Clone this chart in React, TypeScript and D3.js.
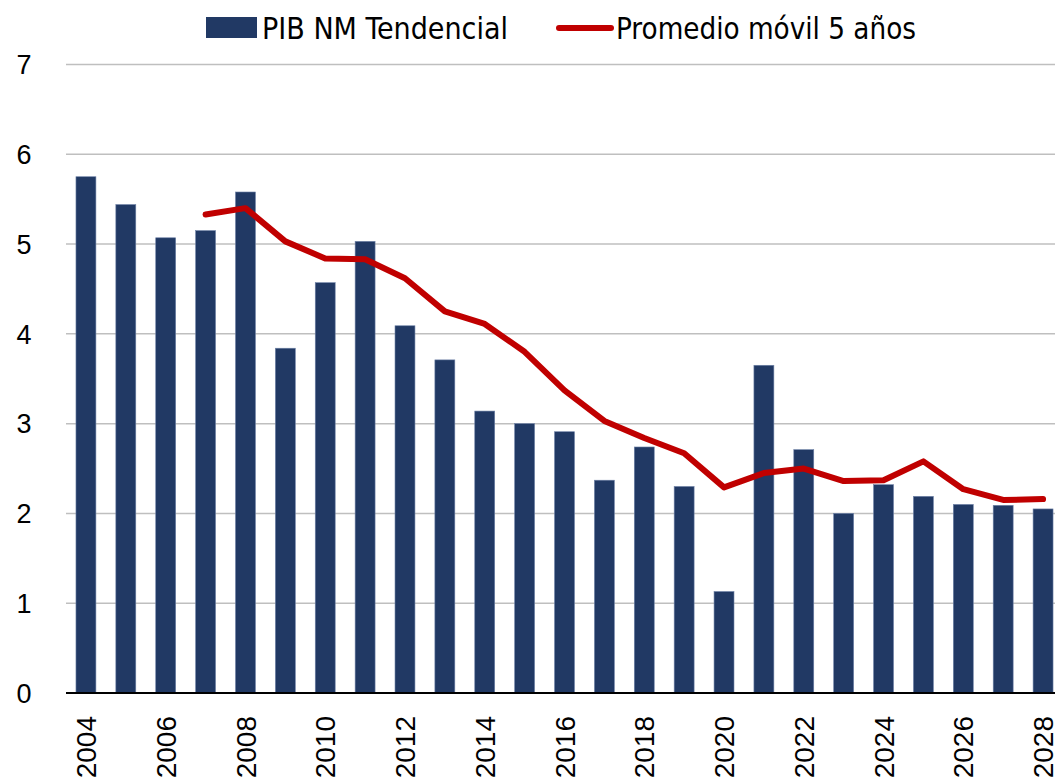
import React from "react";
import * as d3 from "d3";

const years = d3.range(2004, 2029).map(String);
const pibValues = [5.75, 5.44, 5.07, 5.15, 5.58, 3.84, 4.57, 5.03, 4.09, 3.71, 3.14, 3.0, 2.91, 2.37, 2.74, 2.3, 1.13, 3.65, 2.71, 2.0, 2.32, 2.19, 2.1, 2.09, 2.05];
const maYears = d3.range(2007, 2029).map(String);
const maValues = [5.33, 5.4, 5.03, 4.84, 4.83, 4.62, 4.25, 4.11, 3.8, 3.37, 3.03, 2.84, 2.67, 2.29, 2.45, 2.5, 2.36, 2.37, 2.58, 2.27, 2.15, 2.16];
const yTicks = [0, 1, 2, 3, 4, 5, 6, 7];
const xTickLabels = years.filter((_, i) => i % 2 === 0);
const legendLabels = ["PIB NM Tendencial", "Promedio móvil 5 años"];

const W = 1055;
const H = 783;
const BAR = "#213964";
const RED = "#c00000";

export default function App() {
  const x = d3.scaleBand<string>().domain(years).range([66, 1063]).paddingInner(0.5).paddingOuter(0.25);
  const y = d3.scaleLinear().domain([0, 7]).range([693, 64.5]);
  const line = d3
    .line<number>()
    .x((_, i) => (x(maYears[i]) as number) + x.bandwidth() / 2)
    .y((d) => y(d));

  return (
    <svg width={W} height={H} style={{ position: "absolute", left: 0, top: 0, background: "#fff" }}>
      {yTicks.slice(1).map((t) => (
        <line key={t} x1={66} x2={W} y1={y(t)} y2={y(t)} stroke="#bfbfbf" strokeWidth={1.5} />
      ))}
      {yTicks.map((t) => (
        <text key={"l" + t} x={24} y={y(t)} dy="0.36em" textAnchor="middle" fontFamily="'Liberation Sans', Arial, sans-serif" fontSize={27} fill="#000">
          {t}
        </text>
      ))}
      {years.map((yr, i) => (
        <rect
          key={yr}
          x={x(yr)}
          y={y(pibValues[i])}
          width={x.bandwidth()}
          height={y(0) - y(pibValues[i])}
          fill={BAR}
          stroke="#6d80a6"
          strokeWidth={0.6}
        />
      ))}
      <line x1={66} x2={W} y1={y(0)} y2={y(0)} stroke="#000" strokeWidth={2} />
      <path d={line(maValues) || ""} fill="none" stroke={RED} strokeWidth={6} strokeLinejoin="round" strokeLinecap="round" />
      {xTickLabels.map((yr) => {
        const cx = (x(yr) as number) + x.bandwidth() / 2;
        return (
          <text
            key={"x" + yr}
            transform={`translate(${cx},716) rotate(-90)`}
            textAnchor="end"
            dy="0.36em"
            fontFamily="'Liberation Sans', Arial, sans-serif"
            fontSize={28}
            fill="#000"
          >
            {yr}
          </text>
        );
      })}
      <g fontFamily="'Liberation Sans Narrow', 'DejaVu Sans Condensed', sans-serif" fontSize={30} fill="#000">
        <rect x={206} y={17} width={51} height={21} fill={BAR} />
        <text x={262} y={28} dy="0.36em" textLength={246} lengthAdjust="spacingAndGlyphs">
          {legendLabels[0]}
        </text>
        <line x1={559} x2={611} y1={28} y2={28} stroke={RED} strokeWidth={6} strokeLinecap="round" />
        <text x={616} y={28} dy="0.36em" textLength={300} lengthAdjust="spacingAndGlyphs">
          {legendLabels[1]}
        </text>
      </g>
    </svg>
  );
}
